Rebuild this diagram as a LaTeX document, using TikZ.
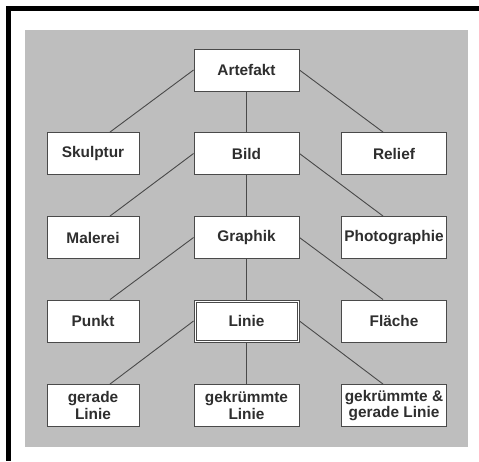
\documentclass[tikz,border=0pt]{standalone}
\usepackage{fontspec}
\setmainfont{Liberation Sans}
\definecolor{panel}{HTML}{BEBEBE}
\definecolor{edge}{HTML}{4A4A4A}
\definecolor{ink}{HTML}{2E2E2E}
\begin{document}
\begin{tikzpicture}[x=1pt,y=-1pt,
  box/.style={draw=edge, line width=0.9pt, fill=white, text=ink,
    font=\fontsize{15.4}{16.5}\selectfont\bfseries, align=center,
    minimum height=42pt, inner sep=0pt},
  left/.style={box, minimum width=92pt},
  wide/.style={box, minimum width=105pt},
  link/.style={draw=edge, line width=0.9pt},
  inner/.style={draw=edge, line width=0.7pt}]
\useasboundingbox (0,0) rectangle (479,461);
% frame and panel
\fill[black] (6,6) rectangle (479,10.5);
\fill[black] (6,6) rectangle (10.5,461);
\fill[panel] (25,30) rectangle (468,447);
% nodes
\node[wide] (art)  at (246.5,70)    {Artefakt};
\node[left] (sku)  at (93,153.5)    {Skulptur};
\node[wide] (bild) at (246.5,153.5) {Bild};
\node[wide] (rel)  at (394,153.5)   {Relief};
\node[left] (mal)  at (93,237.5)    {Malerei};
\node[wide] (gra)  at (246.5,237.5) {Graphik};
\node[wide] (pho)  at (394,237.5)   {Photographie};
\node[left] (pun)  at (93,321)      {Punkt};
\node[wide] (lin)  at (246.5,321)   {Linie};
\node[wide] (fla)  at (394,321)     {Fläche};
\node[left] (ger)  at (93,405.5)    {gerade\\Linie};
\node[wide] (gek)  at (246.5,405.5) {gekrümmte\\Linie};
\node[wide] (bei)  at (394,405.5)   {gekrümmte \&\\gerade Linie};
% inner rule of the double-framed box
\draw[inner] ([shift={(2.6,2.6)}]lin.north west) rectangle ([shift={(-2.6,-2.6)}]lin.south east);
% connectors
\foreach \p/\l/\c/\r in {art/sku/bild/rel, bild/mal/gra/pho, gra/pun/lin/fla, lin/ger/gek/bei}{
  \draw[link] (\p.west) -- ([xshift=17pt]\l.north);
  \draw[link] (\p.south) -- (\c.north);
  \draw[link] (\p.east) -- ([xshift=-11pt]\r.north);
}
\end{tikzpicture}
\end{document}
